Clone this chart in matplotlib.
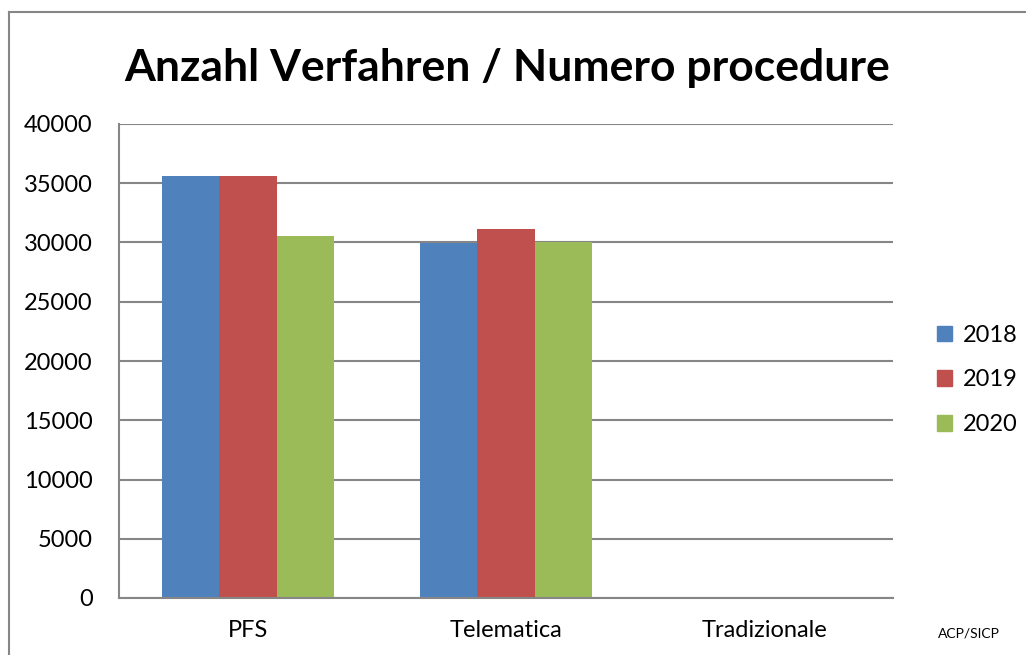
import numpy as np
import matplotlib.pyplot as plt
from matplotlib.lines import Line2D

plt.rcParams['font.family'] = ['Lato', 'DejaVu Sans']

categories = ["PFS", "Telematica", "Tradizionale"]
years = ["2018", "2019", "2020"]
values_2018 = [35650, 29950, 0]
values_2019 = [35600, 31100, 0]
values_2020 = [30550, 30050, 0]
colors = ["#4F81BD", "#C0504D", "#9BBB59"]

W, H = 1026, 655
fig = plt.figure(figsize=(W / 100, H / 100), dpi=100)
# plot area in pixels: x 119..893, y 124..598
ax = fig.add_axes([119 / W, 1 - 598 / H, (893 - 119) / W, (598 - 124) / H])

x = np.arange(len(categories))
bw = 2 / 9
for i, vals in enumerate([values_2018, values_2019, values_2020]):
    ax.bar(x + (i - 1) * bw, vals, width=bw, color=colors[i], label=years[i],
           zorder=3, linewidth=0)

ax.set_xlim(-0.5, 2.5)
ax.set_ylim(0, 40000)
ax.set_yticks(np.arange(0, 40001, 5000))
ax.set_xticks(x)
ax.set_xticklabels(categories)
ax.yaxis.grid(True, color="#868686", linewidth=1.5, zorder=0)
ax.tick_params(axis="both", length=0, labelsize=17, colors="black")
ax.tick_params(axis="y", pad=19)
ax.tick_params(axis="x", pad=16)
for s in ["top", "right"]:
    ax.spines[s].set_visible(False)
for s in ["left", "bottom"]:
    ax.spines[s].set_color("#868686")
    ax.spines[s].set_linewidth(1.5)
    ax.spines[s].set_zorder(4)

handles = [plt.Rectangle((0, 0), 1, 1, color=c) for c in colors]
fig.legend(handles, years, loc="center left", bbox_to_anchor=(937 / W, 1 - 380 / H),
           frameon=False, fontsize=17, handlelength=0.65, handleheight=0.65,
           handletextpad=0.45, labelspacing=1.0, borderpad=0, borderaxespad=0)

fig.text(507 / W, 1 - 68 / H, "Anzahl Verfahren / Numero procedure",
         ha="center", va="center", fontsize=32, fontweight="bold")
fig.text(969 / W, 1 - 633 / H, "ACP/SICP", ha="center", va="center", fontsize=10)

# outer chart border (cut at right/bottom)
fig.add_artist(Line2D([9 / W, 1], [1 - 12 / H, 1 - 12 / H], color="#868686", linewidth=1.5))
fig.add_artist(Line2D([9 / W, 9 / W], [0, 1 - 12 / H], color="#868686", linewidth=1.5))

fig.savefig("out.png", dpi=100)
